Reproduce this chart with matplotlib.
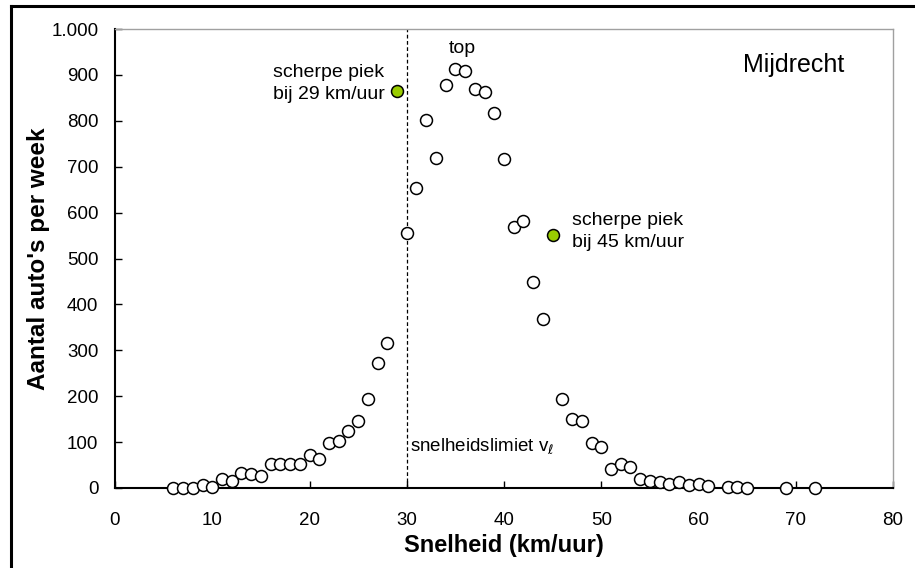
import matplotlib
matplotlib.use('Agg')
import matplotlib.pyplot as plt
from matplotlib.lines import Line2D

plt.rcParams['font.family'] = ['Liberation Sans', 'DejaVu Sans']

# snelheid (km/uur) en aantal auto's per week
speeds = [6, 7, 8, 9, 10, 11, 12, 13, 14, 15, 16, 17, 18, 19, 20, 21, 22, 23, 24, 25,
          26, 27, 28, 30, 31, 32, 33, 34, 35, 36, 37, 38, 39, 40, 41, 42, 43, 44,
          46, 47, 48, 49, 50, 51, 52, 53, 54, 55, 56, 57, 58, 59, 60, 61, 63, 64, 65, 69, 72]
counts = [1, 1, 1, 7, 3, 19, 15, 32, 31, 26, 52, 52, 52, 52, 71, 63, 99, 102, 124, 146,
          193, 272, 315, 555, 653, 801, 720, 879, 912, 908, 869, 862, 816, 717, 568, 582, 449, 369,
          194, 151, 147, 98, 90, 41, 53, 45, 20, 15, 12, 9, 14, 7, 8, 4, 2, 2, 1, 1, 1]

# scherpe pieken
peak_speeds = [29, 45]
peak_counts = [866, 551]

speed_limit = 30
x_ticks = [0, 10, 20, 30, 40, 50, 60, 70, 80]
y_ticks = [0, 100, 200, 300, 400, 500, 600, 700, 800, 900, 1000]
y_labels = ['0', '100', '200', '300', '400', '500', '600', '700', '800', '900', '1.000']

fig = plt.figure(figsize=(9.15, 5.68), dpi=100)
ax = fig.add_axes([115 / 915, 80 / 568, 778 / 915, 459 / 568])

ax.plot(speeds, counts, 'o', ms=8.6, mfc='white', mec='black', mew=1.1, zorder=3, clip_on=False)
ax.plot(peak_speeds, peak_counts, 'o', ms=8.6, mfc='#99cc00', mec='black', mew=1.1, zorder=3)
ax.plot([speed_limit, speed_limit], [0, 1000], color='black', lw=0.9, ls=(0, (3, 2)), zorder=2)

ax.set_xlim(0, 80)
ax.set_ylim(0, 1000)
ax.set_xticks(x_ticks)
ax.set_yticks(y_ticks)
ax.set_yticklabels(y_labels)
ax.tick_params(axis='both', direction='in', length=5, width=1, labelsize=13.5)
ax.tick_params(axis='x', pad=17)
ax.tick_params(axis='y', pad=12)

for side in ['top', 'right']:
    ax.spines[side].set_color('#a0a0a0')
    ax.spines[side].set_linewidth(1)
for side in ['left', 'bottom']:
    ax.spines[side].set_linewidth(1.5)

ax.set_xlabel('Snelheid (km/uur)', fontsize=17, fontweight='bold', labelpad=4)
ax.set_ylabel("Aantal auto's per week", fontsize=17.5, fontweight='bold', labelpad=1)

ax.text(27.75, 881, 'scherpe piek\nbij 29 km/uur', fontsize=14, ha='right', va='center',
        multialignment='center', linespacing=1.35)
ax.text(35.75, 958, 'top', fontsize=14, ha='center', va='center')
ax.text(46.95, 559, 'scherpe piek\nbij 45 km/uur', fontsize=14, ha='left', va='center',
        multialignment='center', linespacing=1.35)
ax.text(69.8, 921, 'Mijdrecht', fontsize=18, ha='center', va='center')
ax.text(30.35, 90, r'snelheidslimiet v$_\ell$', fontsize=13.5, ha='left', va='center')

# kader om de figuur (links en boven)
fig.add_artist(Line2D([11 / 915, 11 / 915], [0, 1 - 6 / 568], color='black', lw=2.2,
                      transform=fig.transFigure))
fig.add_artist(Line2D([11 / 915, 1], [1 - 6 / 568, 1 - 6 / 568], color='black', lw=2.2,
                      transform=fig.transFigure))

fig.savefig('out.png', dpi=100)
